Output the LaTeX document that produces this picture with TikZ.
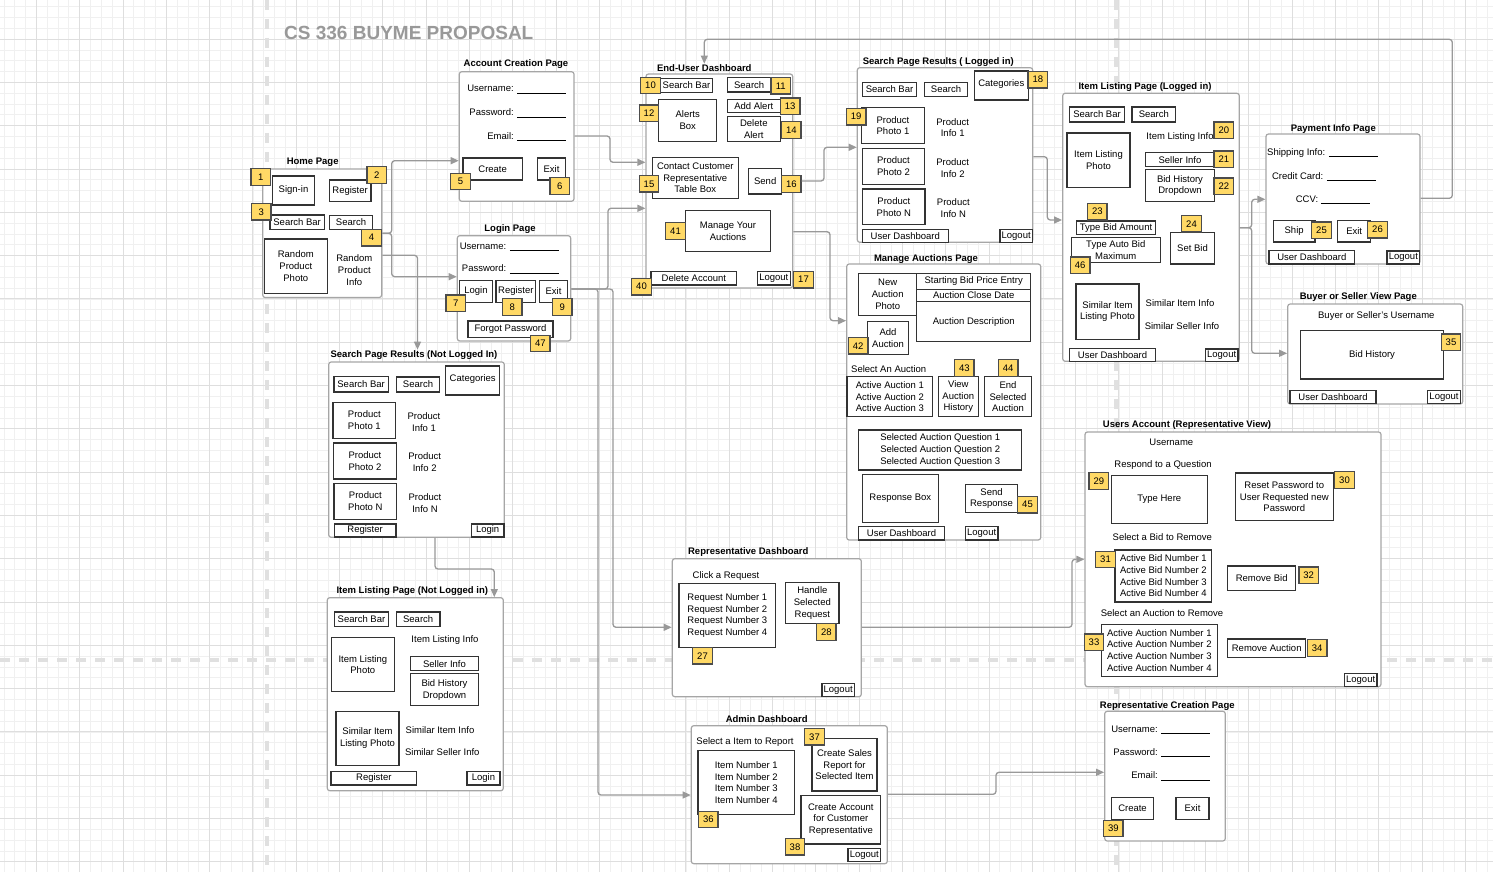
\documentclass[tikz,border=0pt]{standalone}
\usepackage{fontspec}
\setmainfont{Liberation Sans}
\usetikzlibrary{arrows.meta}
\definecolor{tagyellow}{RGB}{255,217,102}
\newcommand\uifont{\fontsize{9.5}{11.7}\selectfont}
% box given by its corners: name, x1, y1, x2, y2, text
\newcommand\uibox[6]{\node[ui,minimum width={#4-#2},minimum height={#5-#3}] (#1) at ({(#2+#4)/2},{(#3+#5)/2}) {#6};}
\newcommand\pagebox[5]{\node[page,minimum width={#4-#2},minimum height={#5-#3}] (#1) at ({(#2+#4)/2},{(#3+#5)/2}) {};}
\newcommand\tagbox[4]{\node[tag] (#1) at (#2,#3) {#4};}
\newcommand\field[5]{\node[txt,anchor=base east] (#1) at (#2,{#3+3.4}) {#4 \rule[-1.6pt]{#5pt}{0.7pt}};}
\begin{document}
\begin{tikzpicture}[x=1pt,y=-1pt,
  page/.style={draw=black!35,fill=white,rounded corners=2.5pt,line width=1.2pt,inner sep=0pt},
  ui/.style={draw=black!80,fill=white,line width=1.3pt,inner sep=0pt,align=center,font=\uifont},
  tag/.style={draw=black!70,fill=tagyellow,line width=1.2pt,minimum width=19.5pt,minimum height=16.5pt,inner sep=0pt,font=\uifont},
  ttl/.style={font=\uifont\bfseries,inner sep=1pt},
  txt/.style={font=\uifont,align=center,inner sep=0pt},
  link/.style={draw=black!40,line width=1.3pt,rounded corners=3pt,-{Triangle[length=8pt,width=7pt]}}]
  \useasboundingbox (0,0) rectangle (1493,872);
  \fill[white] (0,0) rectangle (1493,872);
  % background grid
  \foreach \i in {0,...,138} \draw[black!6,line width=0.6pt] ({\i*10.825-7},0) -- ++(0,872);
  \foreach \j in {0,...,81} \draw[black!6,line width=0.6pt] (0,{\j*10.825-4.3}) -- ++(1493,0);
  \foreach \i in {0,...,35} \draw[black!13,line width=0.8pt] ({\i*43.3-7},0) -- ++(0,872);
  \foreach \j in {0,...,20} \draw[black!13,line width=0.8pt] (0,{\j*43.3-4.3}) -- ++(1493,0);
  \draw[black!12,line width=3.5pt,dash pattern=on 10pt off 9pt] (267,0) -- (267,872);
  \draw[black!12,line width=3.5pt,dash pattern=on 10pt off 9pt] (1116,0) -- (1116,872);
  \draw[black!12,line width=3.5pt,dash pattern=on 10pt off 9pt] (0,660) -- (1493,660);

  \node[anchor=west,inner sep=0pt,text=black!40,font=\fontsize{19}{22}\selectfont\bfseries] (title) at (284,33) {CS 336 BUYME PROPOSAL};

  % Home Page
  \pagebox{home}{262.7}{169}{381.7}{297.5}
  \node[ttl] (homeT) at (312.7,162.7) {Home Page};
  \uibox{hSign}{272.7}{176}{314.3}{205}{Sign-in}
  \uibox{hReg}{329.3}{180}{371}{201.3}{Register}
  \uibox{hBar}{270}{215}{324.3}{229.3}{Search Bar}
  \uibox{hSrch}{329.3}{215.3}{372.7}{229.3}{Search}
  \uibox{hPhoto}{264.3}{239}{327.3}{293.3}{Random\\Product\\Photo}
  \node[txt] (hInfo) at (354.3,270) {Random\\Product\\Info};

  % Account Creation Page
  \pagebox{acct}{459.3}{71.7}{574}{201.3}
  \node[ttl] (acctT) at (516,64.3) {Account Creation Page};
  \field{aUser}{566}{88.3}{Username:}{48.5}
  \field{aPass}{566}{112.3}{Password:}{48.5}
  \field{aMail}{566}{135.7}{Email:}{48.5}
  \uibox{aCreate}{463}{158}{522.3}{180}{Create}
  \uibox{aExit}{537.3}{158}{565.7}{180}{Exit}

  % Login Page
  \pagebox{login}{457.3}{235.7}{570.7}{341}
  \node[ttl] (loginT) at (510,228.7) {Login Page};
  \field{lUser}{559}{245.7}{Username:}{49}
  \field{lPass}{559}{268.3}{Password:}{49}
  \uibox{lLogin}{459.3}{280.7}{492.7}{302.3}{Login}
  \uibox{lReg}{496}{280.7}{535.7}{302.3}{Register}
  \uibox{lExit}{539.3}{280.7}{567.7}{302.3}{Exit}
  \uibox{lForgot}{468}{321}{553}{337.7}{Forgot Password}

  % Search Page Results (Not Logged In)
  \pagebox{snl}{328.7}{362}{504.3}{537.3}
  \node[ttl] (snlT) at (414,355.3) {Search Page Results (Not Logged In)};
  \uibox{sBar}{334}{376.7}{388.3}{392}{Search Bar}
  \uibox{sSrch}{396.3}{377}{439.7}{392}{Search}
  \uibox{sCat}{445.7}{366}{499.7}{395}{}
  \node[txt] (sCatT) at (472.7,379.3) {Categories};
  \uibox{sP1}{333}{402.3}{395.7}{438.3}{Product\\Photo 1}
  \node[txt] (sI1) at (424,422.3) {Product\\Info 1};
  \uibox{sP2}{333.7}{443}{396.3}{479}{Product\\Photo 2}
  \node[txt] (sI2) at (424.7,462.3) {Product\\Info 2};
  \uibox{sPN}{334}{483.3}{396.7}{519.3}{Product\\Photo N}
  \node[txt] (sIN) at (425,503.3) {Product\\Info N};
  \uibox{sReg}{334.3}{524}{396}{537}{Register}
  \uibox{sLogin}{471.3}{524}{504}{537}{Login}

  % Item Listing Page (Not Logged in)
  \pagebox{inl}{327.3}{597.7}{503.3}{790.7}
  \node[ttl] (inlT) at (412.3,591) {Item Listing Page (Not Logged in)};
  \uibox{iBar}{334.3}{612}{388.7}{626.3}{Search Bar}
  \uibox{iSrch}{396.3}{612}{440}{626.3}{Search}
  \uibox{iPhoto}{331.3}{637.3}{394.3}{691.7}{Item Listing\\Photo}
  \node[txt] (iInfo) at (445,640.3) {Item Listing Info};
  \uibox{iSeller}{410.3}{656.7}{478.7}{670.7}{Seller Info}
  \uibox{iBid}{410.3}{673.7}{478.7}{705.7}{Bid History\\Dropdown}
  \uibox{iSim}{336}{711.3}{399}{765.3}{Similar Item\\Listing Photo}
  \node[txt] (iSimI) at (440,730.3) {Similar Item Info};
  \node[txt] (iSimS) at (442.3,752.3) {Similar Seller Info};
  \uibox{iReg}{331}{771.3}{416.7}{785}{Register}
  \uibox{iLogin}{467}{771.3}{500}{785}{Login}

  % End-User Dashboard
  \pagebox{dash}{646}{74}{792.7}{288}
  \node[ttl] (dashT) at (704.3,68.3) {End-User Dashboard};
  \uibox{dBar}{660.3}{78.3}{712.7}{92.3}{Search Bar}
  \uibox{dSrch}{727.3}{77.7}{771}{92}{Search}
  \uibox{dAlerts}{658.7}{99.3}{716.7}{141.3}{Alerts\\Box}
  \uibox{dAdd}{727.3}{99.3}{780.3}{112.7}{Add Alert}
  \uibox{dDel}{727.3}{116.3}{780.3}{141.3}{Delete\\Alert}
  \uibox{dContact}{652.3}{157.7}{738.3}{198.3}{Contact Customer\\Representative\\Table Box}
  \uibox{dSend}{748.7}{168.7}{781.7}{194}{Send}
  \uibox{dManage}{685.3}{210.7}{770.7}{251.3}{Manage Your\\Auctions}
  \uibox{dDelAcc}{651}{271.3}{736.7}{285}{Delete Account}
  \uibox{dLogout}{757.3}{271.3}{790.3}{285}{Logout}

  % Search Page Results (Logged in)
  \pagebox{sl}{857.3}{67.7}{1032.7}{242.3}
  \node[ttl] (slT) at (938.3,62) {Search Page Results ( Logged in)};
  \uibox{slBar}{862.3}{82.3}{916.7}{96.7}{Search Bar}
  \uibox{slSrch}{924.3}{82.3}{967.7}{96.7}{Search}
  \uibox{slCat}{974.3}{71}{1028.3}{100}{}
  \node[txt] (slCatT) at (1001.3,84.3) {Categories};
  \uibox{slP1}{861.7}{107.7}{924.3}{143.7}{Product\\Photo 1}
  \node[txt] (slI1) at (952.7,127.7) {Product\\Info 1};
  \uibox{slP2}{862.3}{148.3}{924.7}{184.3}{Product\\Photo 2}
  \node[txt] (slI2) at (952.7,168.3) {Product\\Info 2};
  \uibox{slPN}{862.7}{189}{925}{224.7}{Product\\Photo N}
  \node[txt] (slIN) at (953.3,208.3) {Product\\Info N};
  \uibox{slDash}{862.3}{229.3}{948.3}{242.3}{User Dashboard}
  \uibox{slLogout}{1000}{229.3}{1032.3}{242.3}{Logout}

  % Manage Auctions Page
  \pagebox{man}{846.7}{264}{1040.7}{540}
  \node[ttl] (manT) at (926,258.7) {Manage Auctions Page};
  \uibox{mPhoto}{858.7}{273.3}{916.7}{315.3}{New\\Auction\\Photo}
  \uibox{mStart}{916.7}{273.3}{1030.7}{289.3}{Starting Bid Price Entry}
  \uibox{mClose}{916.7}{289.3}{1030.7}{301.7}{Auction Close Date}
  \uibox{mDesc}{916.7}{301.7}{1030.7}{341.7}{Auction Description}
  \uibox{mAdd}{867.7}{321.7}{908.3}{354.7}{Add\\Auction}
  \node[txt,anchor=west] (mSel) at (851,369.3) {Select An Auction};
  \uibox{mActive}{847}{376.7}{932.7}{416.7}{Active Auction 1\\Active Auction 2\\Active Auction 3}
  \uibox{mView}{938.3}{376.7}{978.3}{416.7}{View\\Auction\\History}
  \uibox{mEnd}{984.3}{376.7}{1031.7}{416.7}{End\\Selected\\Auction}
  \uibox{mQuest}{858.7}{430}{1021.7}{470}{Selected Auction Question 1\\Selected Auction Question 2\\Selected Auction Question 3}
  \uibox{mResp}{862.3}{474.3}{938.3}{522.7}{Response Box}
  \uibox{mSend}{965.3}{484.7}{1017.7}{512.3}{Send\\Response}
  \uibox{mDash}{858.7}{526.7}{944.3}{540}{User Dashboard}
  \uibox{mLogout}{965.3}{526.7}{998}{540}{Logout}

  % Item Listing Page (Logged in)
  \pagebox{il}{1062.7}{93.3}{1239.3}{361.3}
  \node[ttl] (ilT) at (1145,86.7) {Item Listing Page (Logged in)};
  \uibox{ilBar}{1069.7}{107}{1124.3}{122}{Search Bar}
  \uibox{ilSrch}{1132}{107}{1175.7}{122}{Search}
  \uibox{ilPhoto}{1067}{133}{1130}{187.3}{Item Listing\\Photo}
  \node[txt] (ilInfo) at (1180,136.7) {Item Listing Info};
  \uibox{ilSeller}{1145.7}{152.7}{1214.3}{166.7}{Seller Info}
  \uibox{ilBid}{1145.7}{169.3}{1214.3}{201.7}{Bid History\\Dropdown}
  \uibox{ilType}{1076.3}{221}{1155.7}{234.3}{Type Bid Amount}
  \uibox{ilAuto}{1071.3}{237.7}{1160.3}{262.3}{Type Auto Bid\\Maximum}
  \uibox{ilSet}{1170.7}{232.3}{1214.3}{264}{Set Bid}
  \uibox{ilSim}{1076}{284}{1139}{339.3}{Similar Item\\Listing Photo}
  \node[txt] (ilSimI) at (1180,303.3) {Similar Item Info};
  \node[txt] (ilSimS) at (1182,326) {Similar Seller Info};
  \uibox{ilDash}{1069.7}{348.3}{1155.3}{361.3}{User Dashboard}
  \uibox{ilLogout}{1205.3}{349}{1238}{361.3}{Logout}

  % Payment Info Page
  \pagebox{pay}{1266}{134}{1420}{264}
  \node[ttl] (payT) at (1333.3,129.3) {Payment Info Page};
  \field{pShipI}{1377.7}{151.7}{Shipping Info:}{48.7}
  \field{pCard}{1375.7}{175.7}{Credit Card:}{48.7}
  \field{pCCV}{1369.7}{198.7}{CCV:}{48.7}
  \uibox{pShip}{1273.3}{220.3}{1315}{242}{Ship}
  \uibox{pExit}{1337.7}{220.3}{1370.7}{242}{Exit}
  \uibox{pDash}{1269}{250.3}{1354.7}{264}{User Dashboard}
  \uibox{pLogout}{1387}{251}{1419.7}{264}{Logout}

  % Buyer or Seller View Page
  \pagebox{bsv}{1287.7}{304}{1462.7}{404}
  \node[ttl] (bsvT) at (1358.3,297.3) {Buyer or Seller View Page};
  \node[txt] (bUser) at (1376.3,316) {Buyer or Seller's Username};
  \uibox{bHist}{1300.3}{330.7}{1443.7}{379}{Bid History}
  \uibox{bDash}{1290}{390.3}{1376}{403.7}{User Dashboard}
  \uibox{bLogout}{1427.7}{390.3}{1460.3}{403.7}{Logout}

  % Users Account (Representative View)
  \pagebox{ua}{1085}{432}{1381}{686.7}
  \node[ttl] (uaT) at (1187,424.7) {Users Account (Representative View)};
  \node[txt] (uUser) at (1171.3,442.3) {Username};
  \node[txt] (uResp) at (1163,465.3) {Respond to a Question};
  \uibox{uType}{1111.3}{475.3}{1207.3}{523.7}{Type Here}
  \uibox{uReset}{1235.3}{473}{1333.3}{520.3}{Reset Password to\\User Requested new\\Password}
  \node[txt] (uSelB) at (1162.3,537.3) {Select a Bid to Remove};
  \uibox{uBids}{1115}{550}{1211.7}{602}{Active Bid Number 1\\Active Bid Number 2\\Active Bid Number 3\\Active Bid Number 4}
  \uibox{uRemBid}{1227.7}{566}{1295.7}{590.3}{Remove Bid}
  \node[txt] (uSelA) at (1162,613.3) {Select an Auction to Remove};
  \uibox{uAucs}{1101.3}{624.3}{1217.3}{676.3}{Active Auction Number 1\\Active Auction Number 2\\Active Auction Number 3\\Active Auction Number 4}
  \uibox{uRemAuc}{1227.7}{639}{1305.7}{657.3}{Remove Auction}
  \uibox{uLogout}{1344.3}{673.7}{1377}{686.7}{Logout}

  % Representative Dashboard
  \pagebox{rep}{672.3}{558.7}{861.3}{696.7}
  \node[ttl] (repT) at (748.3,551.7) {Representative Dashboard};
  \node[txt] (rClick) at (726,575.7) {Click a Request};
  \uibox{rReq}{679}{583.3}{775.7}{647.7}{Request Number 1\\Request Number 2\\Request Number 3\\Request Number 4}
  \uibox{rHandle}{785.7}{582.7}{839}{623.7}{Handle\\Selected\\Request}
  \uibox{rLogout}{822}{683.7}{854.3}{696.7}{Logout}

  % Admin Dashboard
  \pagebox{adm}{691.3}{725.7}{887.3}{863.7}
  \node[ttl] (admT) at (766.7,718.7) {Admin Dashboard};
  \node[txt] (aSel) at (745,741.7) {Select a Item to Report};
  \uibox{aItems}{698}{750.3}{794.7}{814.7}{Item Number 1\\Item Number 2\\Item Number 3\\Item Number 4}
  \uibox{aSales}{812}{738.7}{877}{791}{Create Sales\\Report for\\Selected Item}
  \uibox{aCR}{801}{795.3}{880.7}{844}{Create Account\\for Customer\\Representative}
  \uibox{aLogout}{848}{848.3}{880.7}{861.7}{Logout}

  % Representative Creation Page
  \pagebox{rc}{1104.7}{711.3}{1225.3}{841}
  \node[ttl] (rcT) at (1167.3,706) {Representative Creation Page};
  \field{rcUser}{1210}{728.7}{Username:}{48.5}
  \field{rcPass}{1210}{752}{Password:}{48.5}
  \field{rcMail}{1210}{775.3}{Email:}{48.5}
  \uibox{rcCreate}{1111.3}{797.7}{1153.7}{819.3}{Create}
  \uibox{rcExit}{1176}{797.7}{1209}{819.3}{Exit}

  % numbered tags
  \tagbox{t1}{260.7}{177}{1}
  \tagbox{t2}{376.8}{175}{2}
  \tagbox{t3}{261.2}{211.8}{3}
  \tagbox{t4}{371.5}{237.7}{4}
  \tagbox{t5}{460.5}{181.5}{5}
  \tagbox{t6}{559.7}{186}{6}
  \tagbox{t7}{455.8}{303.3}{7}
  \tagbox{t8}{512.2}{307}{8}
  \tagbox{t9}{562.3}{307}{9}
  \tagbox{t47}{540.3}{343.5}{47}
  \tagbox{t10}{650.5}{85.5}{10}
  \tagbox{t11}{780.8}{85.8}{11}
  \tagbox{t12}{649}{113.3}{12}
  \tagbox{t13}{790.2}{106.3}{13}
  \tagbox{t14}{791.3}{130}{14}
  \tagbox{t15}{649}{183.8}{15}
  \tagbox{t16}{791.3}{184}{16}
  \tagbox{t41}{675.5}{231}{41}
  \tagbox{t17}{803.5}{279.7}{17}
  \tagbox{t40}{641.5}{286.7}{40}
  \tagbox{t18}{1037.8}{79.7}{18}
  \tagbox{t19}{856.2}{116.7}{19}
  \tagbox{t42}{858.2}{345.8}{42}
  \tagbox{t43}{964.3}{368}{43}
  \tagbox{t44}{1008.2}{368}{44}
  \tagbox{t45}{1027.5}{504.7}{45}
  \tagbox{t20}{1223.8}{130.2}{20}
  \tagbox{t21}{1223.8}{159.3}{21}
  \tagbox{t22}{1223.8}{186.3}{22}
  \tagbox{t23}{1097.3}{211.7}{23}
  \tagbox{t46}{1080.2}{265.2}{46}
  \tagbox{t24}{1191.5}{223.7}{24}
  \tagbox{t25}{1321.5}{230.3}{25}
  \tagbox{t26}{1377.5}{229.7}{26}
  \tagbox{t35}{1451}{342.2}{35}
  \tagbox{t29}{1098.8}{481}{29}
  \tagbox{t30}{1344.5}{480}{30}
  \tagbox{t31}{1105.5}{559.5}{31}
  \tagbox{t32}{1308.7}{575.2}{32}
  \tagbox{t33}{1094}{642.2}{33}
  \tagbox{t34}{1317.2}{648}{34}
  \tagbox{t27}{702.5}{655.7}{27}
  \tagbox{t28}{826.3}{632}{28}
  \tagbox{t36}{708.3}{819.5}{36}
  \tagbox{t37}{814.5}{736.8}{37}
  \tagbox{t38}{795}{846.8}{38}
  \tagbox{t39}{1113.3}{828.5}{39}

  % page flow
  \draw[link] (home.east |- 0,233.3) -- (391.7,233.3) -- (391.7,160.7) -- (acct.west |- 0,160.7);
  \draw[link] (home.east |- 0,233.3) -- (391.7,233.3) -- (391.7,276.7) -- (login.west |- 0,276.7);
  \draw[link] (home.east |- 0,255.3) -- (417.5,255.3) -- (snlT.north -| 417.5,0);
  \draw[link] (snl.south -| 435,0) -- (435,569) -- (494.3,569) -- (inl.north -| 494.3,0);
  \draw[link] (acct.east |- 0,136) -- (610,136) -- (610,162.3) -- (dash.west |- 0,162.3);
  \draw[link] (login.east |- 0,289) -- (608,289) -- (608,208.3) -- (dash.west |- 0,208.3);
  \draw[link] (login.east |- 0,289) -- (613,289) -- (613,627.3) -- (rep.west |- 0,627.3);
  \draw[link] (login.east |- 0,289) -- (598,289) -- (598,795) -- (adm.west |- 0,795);
  \draw[link] (t16.east |- 0,181) -- (824,181) -- (824,147.3) -- (sl.west |- 0,147.3);
  \draw[link] (dash.east |- 0,231.7) -- (830,231.7) -- (830,320.7) -- (man.west |- 0,320.7);
  \draw[link] (sl.east |- 0,156.7) -- (1047.3,156.7) -- (1047.3,220) -- (il.west |- 0,220);
  \draw[link] (il.east |- 0,227.7) -- (1251.7,227.7) -- (1251.7,199.3) -- (pay.west |- 0,199.3);
  \draw[link] (il.east |- 0,227.7) -- (1251.7,227.7) -- (1251.7,353.3) -- (bsv.west |- 0,353.3);
  \draw[link] (pay.east |- 0,198.3) -- (1452.3,198.3) -- (1452.3,39.3) -- (704.3,39.3) -- (dashT.north -| 704.3,0);
  \draw[link] (rep.east |- 0,627.3) -- (1072,627.3) -- (1072,559.3) -- (ua.west |- 0,559.3);
  \draw[link] (adm.east |- 0,794.3) -- (996,794.3) -- (996,772.3) -- (rc.west |- 0,772.3);
\end{tikzpicture}
\end{document}
